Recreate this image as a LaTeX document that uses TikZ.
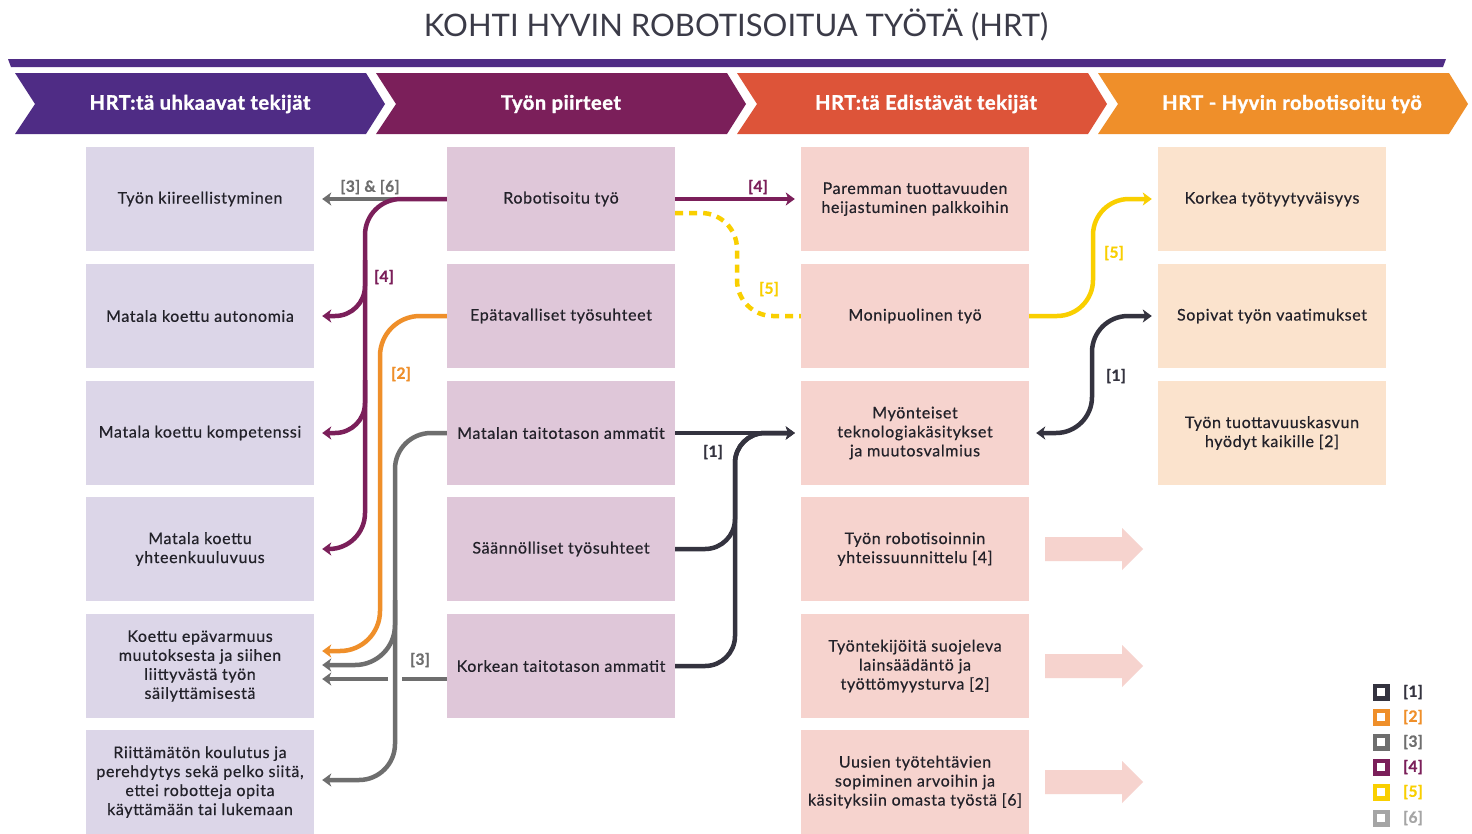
\documentclass[tikz,border=0pt]{standalone}
\usepackage{fontspec}
\setmainfont{Lato}
\newfontfamily\bodyfont{Lato}[LetterSpace=4, FakeBold=0.5]
\newfontfamily\heavyfont{Lato}[LetterSpace=3, BoldFeatures={FakeBold=1.5}]
\newfontfamily\lblfont{Lato}[LetterSpace=3, BoldFeatures={FakeBold=0.8}]
\usetikzlibrary{arrows.meta}
\definecolor{cpurple}{HTML}{4F2C85}
\definecolor{cplum}{HTML}{7B1F5A}
\definecolor{cred}{HTML}{DD5439}
\definecolor{corange}{HTML}{EF8F2A}
\definecolor{fillA}{HTML}{DCD6E8}
\definecolor{fillB}{HTML}{DFC7D9}
\definecolor{fillC}{HTML}{F6D3CE}
\definecolor{fillD}{HTML}{FBE3CD}
\definecolor{lnDark}{HTML}{34333F}
\definecolor{lnOrange}{HTML}{EF8F2A}
\definecolor{lnGray}{HTML}{6E6E6E}
\definecolor{lnPlum}{HTML}{7B1F5A}
\definecolor{lnYellow}{HTML}{F9CF00}
\definecolor{lnLight}{HTML}{A5A5A5}
\definecolor{txt}{HTML}{222129}
\definecolor{titlegray}{HTML}{3B3B48}
\begin{document}
\begin{tikzpicture}[x=1pt,y=-1pt,
  box/.style={minimum width=228pt, minimum height=104pt, inner sep=3pt, align=center, text=txt, font=\bodyfont\fontsize{16}{19}\selectfont},
  boxA/.style={box, fill=fillA},
  boxB/.style={box, fill=fillB},
  boxC/.style={box, fill=fillC},
  boxD/.style={box, fill=fillD},
  conn/.style={line width=4.5pt},
  tipend/.style={-{Stealth[length=9pt,width=13pt,inset=2.5pt]}},
  tipboth/.style={{Stealth[length=9pt,width=13pt,inset=2.5pt]}-{Stealth[length=9pt,width=13pt,inset=2.5pt]}},
  lbl/.style={font=\lblfont\bfseries\fontsize{15.5}{15.5}\selectfont},
  hdr/.style={text=white, font=\heavyfont\bfseries\fontsize{20}{20}\selectfont},
  legsq/.style={line width=4.5pt, minimum size=12.5pt, inner sep=0pt},
  blockarrow/.style={fill=fillC}
]
\useasboundingbox (0,0) rectangle (1472,833);
\fill[white] (0,0) rectangle (1472,833);

% title
\node[font=\fontsize{31}{31}\selectfont, text=titlegray] (title) at (736,25) {KOHTI HYVIN ROBOTISOITUA TYÖTÄ (HRT)};

% band
\fill[cpurple] (8,59) -- (1446,59) -- (1443,67) -- (11,67) -- cycle;

% chevrons
\fill[cpurple] (15,73) -- (366,73) -- (385,104) -- (366,134) -- (15,134) -- (35,104) -- cycle;
\fill[cplum] (376,73) -- (727,73) -- (746,104) -- (727,134) -- (376,134) -- (396,104) -- cycle;
\fill[cred] (737,73) -- (1088,73) -- (1107,104) -- (1088,134) -- (737,134) -- (757,104) -- cycle;
\fill[corange] (1098,73) -- (1449,73) -- (1468,104) -- (1449,134) -- (1098,134) -- (1118,104) -- cycle;
\node[hdr] (h1) at (200,104) {HRT:tä uhkaavat tekijät};
\node[hdr] (h2) at (561,104) {Työn piirteet};
\node[hdr] (h3) at (926,104) {HRT:tä Edistävät tekijät};
\node[hdr] (h4) at (1292,104) {HRT - Hyvin robotisoitu työ};

% column 1
\node[boxA] (a1) at (200,199) {Työn kiireellistyminen};
\node[boxA] (a2) at (200,316) {Matala koettu autonomia};
\node[boxA] (a3) at (200,433) {Matala koettu kompetenssi};
\node[boxA] (a4) at (200,549) {Matala koettu\\yhteenkuuluvuus};
\node[boxA] (a5) at (200,666) {Koettu epävarmuus\\muutoksesta ja siihen\\liittyvästä työn\\säilyttämisestä};
\node[boxA] (a6) at (200,782) {Riittämätön koulutus ja\\perehdytys sekä pelko siitä,\\ettei robotteja opita\\käyttämään tai lukemaan};

% column 2
\node[boxB] (b1) at (561,199) {Robotisoitu työ};
\node[boxB] (b2) at (561,316) {Epätavalliset työsuhteet};
\node[boxB] (b3) at (561,433) {Matalan taitotason ammatit};
\node[boxB] (b4) at (561,549) {Säännölliset työsuhteet};
\node[boxB] (b5) at (561,666) {Korkean taitotason ammatit};

% column 3
\node[boxC] (c1) at (915,199) {Paremman tuottavuuden\\heijastuminen palkkoihin};
\node[boxC] (c2) at (915,316) {Monipuolinen työ};
\node[boxC] (c3) at (915,433) {Myönteiset\\teknologiakäsitykset\\ja muutosvalmius};
\node[boxC] (c4) at (915,549) {Työn robotisoinnin\\yhteissuunnittelu [4]};
\node[boxC] (c5) at (915,666) {Työntekijöitä suojeleva\\lainsäädäntö ja\\työttömyysturva [2]};
\node[boxC] (c6) at (915,782) {Uusien työtehtävien\\sopiminen arvoihin ja\\käsityksiin omasta työstä [6]};

% column 4
\node[boxD] (d1) at (1272,199) {Korkea työtyytyväisyys};
\node[boxD] (d2) at (1272,316) {Sopivat työn vaatimukset};
\node[boxD] (d3) at (1272,433) {Työn tuottavuuskasvun\\hyödyt kaikille [2]};

% gray [3] & [6]
\draw[conn,lnGray,tipend] (b1.west) -- ([xshift=8pt]a1.east);
\node[lbl,text=lnGray] (l36) at (370,187) {[3] \& [6]};

% purple [4]
\draw[conn,lnPlum,tipend,rounded corners=36pt] (b1.west) -- (365,199) -- (365,549) -- ([xshift=8pt]a4.east);
\draw[conn,lnPlum,tipend,rounded corners=30pt] (365,260) -- (365,316) -- ([xshift=8pt]a2.east);
\draw[conn,lnPlum,tipend,rounded corners=30pt] (365,380) -- (365,433) -- ([xshift=8pt]a3.east);
\node[lbl,text=lnPlum] (l4a) at (384,277) {[4]};

% orange [2]
\draw[conn,lnOrange,tipend,rounded corners=40pt] (b2.west) -- (380,316) -- (380,651) -- ([xshift=8pt,yshift=15pt]a5.east);
\node[lbl,text=lnOrange] (l2) at (401,374) {[2]};

% gray [3]
\draw[conn,lnGray,tipend,rounded corners=36pt] (b3.west) -- (395,433) -- (395,780) -- ([xshift=8pt,yshift=2pt]a6.east);
\draw[conn,lnGray,tipend,rounded corners=40pt] (395,600) -- (395,665) -- ([xshift=8pt,yshift=1pt]a5.east);
\coordinate (gapR) at (402,679);
\coordinate (gapL) at (388,679);
\draw[conn,lnGray] ([yshift=-13pt]b5.west) -- (gapR);
\draw[conn,lnGray,tipend] (gapL) -- ([xshift=8pt,yshift=-13pt]a5.east);
\node[lbl,text=lnGray] (l3) at (420,660) {[3]};

% purple [4] right
\draw[conn,lnPlum,tipend] (b1.east) -- ([xshift=-6pt]c1.west);
\node[lbl,text=lnPlum] (l4b) at (758,187) {[4]};

% yellow dashed [5]
\draw[conn,lnYellow,dash pattern=on 8pt off 6pt,rounded corners=36pt] ([yshift=-14pt]b1.east) -- (737,213) -- (737,316) -- (c2.west);
\node[lbl,text=lnYellow] (l5a) at (769,289) {[5]};

% dark [1]
\draw[conn,lnDark,tipend] (b3.east) -- ([xshift=-6pt]c3.west);
\draw[conn,lnDark,tipend,rounded corners=30pt] (b4.east) -- (735,549) -- (735,433) -- ([xshift=-6pt]c3.west);
\draw[conn,lnDark,tipend,rounded corners=30pt] (b5.east) -- (735,666) -- (735,433) -- ([xshift=-6pt]c3.west);
\node[lbl,text=lnDark] (l1a) at (713,452) {[1]};

% yellow solid [5]
\draw[conn,lnYellow,tipend,rounded corners=36pt] (c2.east) -- (1093,316) -- (1093,199) -- ([xshift=-6pt]d1.west);
\node[lbl,text=lnYellow] (l5b) at (1114,253) {[5]};

% dark double [1]
\draw[conn,lnDark,tipboth,rounded corners=36pt] ([xshift=7pt]c3.east) -- (1092,433) -- (1092,316) -- ([xshift=-6pt]d2.west);
\node[lbl,text=lnDark] (l1b) at (1116,376) {[1]};

% block arrows
\foreach \yc in {549,666,782}{
  \fill[blockarrow] (1045,\yc-12) -- (1122,\yc-12) -- (1122,\yc-21) -- (1143,\yc) -- (1122,\yc+21) -- (1122,\yc+12) -- (1045,\yc+12) -- cycle;
}

% legend
\foreach \i/\c/\yy in {1/lnDark/692, 2/lnOrange/717, 3/lnGray/742, 4/lnPlum/767, 5/lnYellow/792, 6/lnLight/818}{
  \node[legsq,draw=\c] (lg\i) at (1381,\yy) {};
  \node[lbl,text=\c] (lt\i) at (1413,\yy) {[\i]};
}
\end{tikzpicture}
\end{document}
